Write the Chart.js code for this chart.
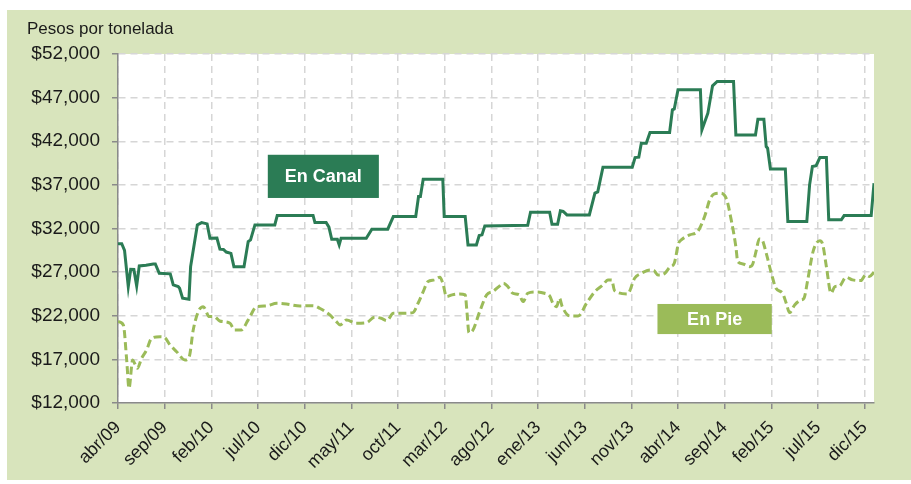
<!DOCTYPE html>
<html>
<head>
<meta charset="utf-8">
<script src="https://cdn.jsdelivr.net/npm/chart.js@4/dist/chart.umd.min.js"></script>
<style>
  html, body { margin: 0; padding: 0; background: #fff; }
  #wrap { width: 911px; height: 484px; }
</style>
</head>
<body>
<div id="wrap"><canvas id="precios" width="911" height="484"></canvas></div>
<script>
// precios de ganado, pesos por tonelada (x = meses desde abr/09)

const xLabels = ['abr/09', 'sep/09', 'feb/10', 'jul/10', 'dic/10', 'may/11', 'oct/11', 'mar/12', 'ago/12',
    'ene/13', 'jun/13', 'nov/13', 'abr/14', 'sep/14', 'feb/15', 'jul/15', 'dic/15'];

const canalMes = [0, 0.4, 0.7, 1.1, 1.36, 1.7, 2.0, 2.28, 3.0, 3.78, 4.0, 4.42, 5.6, 5.92, 6.45, 6.6, 6.92, 7.6,
    7.78, 8.5, 8.96, 9.55, 9.85, 10.6, 10.92, 11.3, 11.6, 12.1, 12.42, 13.5, 13.95, 14.2, 14.67, 16.8, 17.06,
    20.9, 21.1, 22.3, 22.6, 22.9, 23.5, 23.7, 23.9, 26.6, 27.2, 28.9, 29.5, 31.9, 32.2, 32.4, 32.7, 34.8, 34.95,
    37.2, 37.5, 38.4, 38.7, 39.0, 39.3, 43.9, 44.2, 46.25, 46.5, 47.1, 47.4, 47.7, 48.1, 50.5, 51.1, 51.4, 51.96,
    55.1, 55.4, 55.8, 56.07, 56.6, 57.0, 59.1, 59.4, 59.6, 60.0, 62.4, 62.56, 63.2, 63.7, 64.2, 65.95, 66.2,
    68.3, 68.56, 69.2, 69.45, 69.6, 69.9, 71.5, 71.77, 73.8, 74.1, 74.4, 74.8, 75.2, 75.9, 76.15, 77.5, 77.8,
    80.7, 81.0];
const canalValores = [30250, 30250, 29500, 25340, 27330, 27300, 25420, 27710, 27800, 27940, 27940, 26870, 26800,
    25530, 25340, 25150, 24010, 23900, 27630, 32410, 32680, 32530, 30890, 30900, 29630, 29600, 29300, 29150, 27630,
    27630, 30500, 30700, 32410, 32410, 33480, 33500, 32680, 32680, 32150, 30770, 30770, 30120, 30890, 30890, 31920,
    31920, 33370, 33370, 35660, 35660, 37650, 37650, 33370, 33370, 30120, 30120, 31190, 31270, 32300, 32380, 33870,
    33870, 32490, 32490, 34020, 33950, 33560, 33560, 36050, 36200, 39030, 39030, 40130, 40180, 41780, 41780, 43000,
    43000, 45600, 45700, 47900, 47900, 43310, 45220, 48350, 48850, 48850, 42730, 42730, 44530, 44530, 41390, 41200,
    38830, 38830, 32800, 32800, 37000, 39100, 39200, 40130, 40130, 32990, 32990, 33480, 33480, 37190];

const pieMes = [0, 0.57, 0.93, 1.18, 1.57, 1.8, 2.07, 2.53, 3.07, 3.6, 4.5, 5.0, 5.57, 6.28, 7.17, 7.63, 8.06, 8.6,
    9.13, 9.78, 10.3, 10.9, 12.0, 12.5, 13.2, 13.95, 14.85, 15.9, 17.0, 18.05, 19.5, 20.9, 21.6, 22.7, 23.4, 23.8,
    24.5, 25.5, 26.6, 27.5, 28.2, 28.8, 29.5, 30.5, 31.6, 32.15, 32.7, 33.2, 33.9, 34.5, 34.8, 35.2, 35.8, 36.6,
    37.2, 37.4, 37.6, 38.0, 38.75, 39.5, 40.2, 40.9, 41.3, 41.8, 42.3, 43.0, 43.4, 43.9, 44.8, 45.7, 46.25, 46.6,
    47.0, 47.3, 47.6, 48.4, 49.3, 50.2, 51.1, 51.96, 52.5, 52.9, 53.2, 54.6, 55.35, 56.07, 57.0, 57.4, 57.85, 58.6,
    59.1, 59.6, 60.06, 60.35, 61.25, 62.1, 62.85, 63.4, 63.9, 64.6, 65.2, 65.7, 66.2, 66.4, 66.95, 67.7, 68.0, 68.4,
    68.7, 69.0, 69.45, 70.0, 70.5, 71.2, 71.6, 71.95, 72.5, 73.2, 73.5, 73.9, 74.5, 75.2, 75.5, 75.9, 76.4, 76.8,
    77.3, 78.0, 78.7, 79.6, 80.1, 80.5, 81.0];
const pieValores = [21320, 20950, 16930, 13690, 16930, 16500, 15980, 17130, 18080, 19420, 19600, 19500, 18650,
    17880, 16930, 17310, 20370, 22470, 23040, 21900, 21900, 21400, 21140, 20370, 20370, 21520, 23040, 23120, 23430,
    23350, 23120, 23160, 22860, 22090, 21320, 20950, 21520, 21140, 21200, 21830, 21710, 21440, 22290, 22290, 22360,
    23430, 24760, 25910, 26110, 26420, 25730, 24190, 24390, 24500, 24390, 22290, 20060, 20300, 22470, 24390, 24800,
    25420, 25730, 25300, 24580, 24390, 23620, 24580, 24730, 24580, 24270, 23430, 23040, 24010, 23040, 21980, 21980,
    23430, 24770, 25530, 26110, 26100, 24880, 24500, 26300, 26870, 27250, 27200, 26680, 26870, 27560, 28020, 30310,
    30690, 31270, 31650, 33370, 35280, 35970, 36050, 35360, 32990, 29920, 28200, 27940, 27630, 27900, 29550, 30810,
    30700, 29170, 26870, 25150, 24580, 23430, 22360, 23240, 23810, 24000, 26110, 29470, 30610, 30200, 27630, 24580,
    25340, 25400, 26420, 26110, 26030, 26680, 26500, 26990];

const verdeOscuro = '#2b7c55';
const verdeClaro = '#9bbb59';

// etiquetas de las series (en coordenadas de datos)
const etiquetas = [
    { text: 'En Canal', x0: 16.05, x1: 27.95, y0: 35500, y1: 40450, color: verdeOscuro, size: 18 },
    { text: 'En Pie', x0: 57.8, x1: 70.05, y0: 19900, y1: 23350, color: verdeClaro, size: 18 }
];

function toPoints(xs, ys) {
    return xs.map((x, i) => ({ x: x, y: ys[i] }));
}

const fondo = {
    id: 'fondo',
    beforeDraw(chart) {
        const ctx = chart.ctx;
        const a = chart.chartArea;
        ctx.save();
        ctx.fillStyle = '#ffffff';
        ctx.fillRect(0, 0, chart.width, chart.height);
        ctx.fillStyle = '#d8e4bc';
        ctx.fillRect(7, 10, chart.width - 7, chart.height - 14);
        ctx.fillStyle = '#ffffff';
        ctx.fillRect(a.left, a.top, a.right - a.left, a.bottom - a.top);
        ctx.fillStyle = '#1a1a1a';
        ctx.font = '17px "Liberation Sans", Arial, sans-serif';
        ctx.textBaseline = 'middle';
        ctx.fillText('Pesos por tonelada', 27, 29);
        ctx.restore();
    },
    afterDatasetsDraw(chart) {
        const ctx = chart.ctx;
        const sx = chart.scales.x, sy = chart.scales.y;
        ctx.save();
        etiquetas.forEach(e => {
            const l = sx.getPixelForValue(e.x0), r = sx.getPixelForValue(e.x1);
            const t = sy.getPixelForValue(e.y1), b = sy.getPixelForValue(e.y0);
            ctx.fillStyle = e.color;
            ctx.fillRect(l, t, r - l, b - t);
            ctx.fillStyle = '#ffffff';
            ctx.font = 'bold ' + e.size + 'px "Liberation Sans", Arial, sans-serif';
            ctx.textAlign = 'center';
            ctx.textBaseline = 'middle';
            ctx.fillText(e.text, (l + r) / 2, (t + b) / 2 + 1);
        });
        ctx.restore();
    }
};

const fontFamily = '"Liberation Sans", Arial, sans-serif';

new Chart(document.getElementById('precios'), {
    type: 'line',
    data: {
        datasets: [{
            label: 'En Canal',
            data: toPoints(canalMes, canalValores),
            borderColor: verdeOscuro,
            borderWidth: 3,
            pointRadius: 0,
            tension: 0
        }, {
            label: 'En Pie',
            data: toPoints(pieMes, pieValores),
            borderColor: verdeClaro,
            borderWidth: 3,
            borderDash: [8, 4],
            pointRadius: 0,
            cubicInterpolationMode: 'monotone'
        }]
    },
    options: {
        responsive: false,
        animation: false,
        layout: { padding: { top: 54, right: 37, left: 0, bottom: 0 } },
        plugins: {
            legend: { display: false },
            tooltip: { enabled: false }
        },
        scales: {
            x: {
                type: 'linear',
                min: 0,
                max: 81,
                afterFit(scale) { scale.height = 81; },
                ticks: {
                    stepSize: 5,
                    includeBounds: false,
                    autoSkip: false,
                    minRotation: 45,
                    maxRotation: 45,
                    padding: 8,
                    color: '#1a1a1a',
                    font: { family: fontFamily, size: 18 },
                    callback: (v) => xLabels[v / 5] || ''
                },
                grid: {
                    color: '#d6d6d6',
                    lineWidth: 1.5,
                    tickLength: 6,
                    tickColor: '#8a8a8a',
                    tickBorderDash: [20, 0]
                },
                border: { color: '#8a8a8a', width: 1.5, dash: [7, 5] }
            },
            y: {
                min: 12000,
                max: 52000,
                afterFit(scale) { scale.width = 118; },
                ticks: {
                    stepSize: 5000,
                    padding: 12,
                    color: '#1a1a1a',
                    font: { family: fontFamily, size: 19 },
                    callback: (v) => '$' + v.toLocaleString('en-US')
                },
                grid: {
                    color: '#d6d6d6',
                    lineWidth: 1.5,
                    tickLength: 6,
                    tickColor: '#8a8a8a',
                    tickBorderDash: [20, 0]
                },
                border: { color: '#8a8a8a', width: 1.5, dash: [7, 5] }
            }
        }
    },
    plugins: [fondo]
});
</script>
</body>
</html>
